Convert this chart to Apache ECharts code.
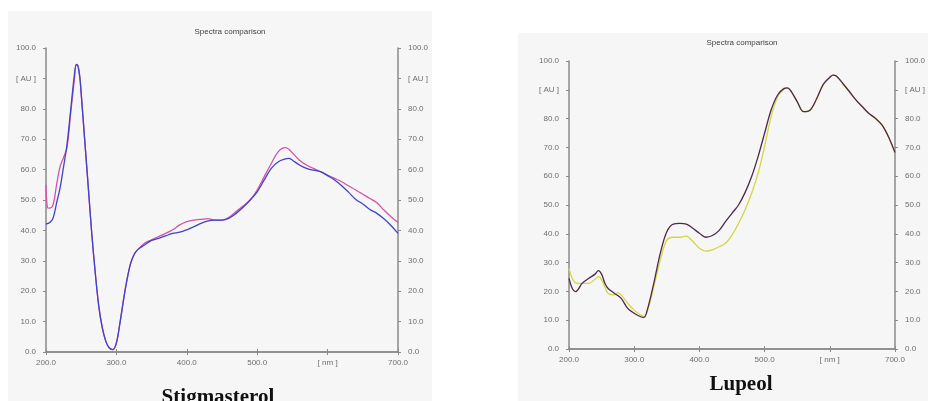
<!DOCTYPE html>
<html><head><meta charset="utf-8">
<script src="https://cdn.jsdelivr.net/npm/echarts@6/dist/echarts.min.js"></script>
<style>html,body{margin:0;padding:0;background:#fff}#c{width:928px;height:401px}</style>
</head><body><div id="c"></div>
<script>
// ---- Stigmasterol (left) ----
const stigBlueNm = [200,205,210,215,220,225,230,235,240,243,245,248,250,255,260,265,270,275,280,285,290,295,300,305,310,315,320,325,330,340,350,360,370,380,390,400,410,420,430,440,450,460,470,480,490,500,510,520,530,540,545,550,560,570,580,590,600,610,620,630,640,650,660,670,680,690,700];
const stigBlue   = [42.1,42.5,44,49,54,61,68.6,79.5,90.5,94.6,94.3,90.5,85,69.7,54.4,39,26,15,7.9,3.5,1.3,0.8,3,9.5,17,23.7,29,32,33.6,35.2,36.7,37.4,38.2,39,39.4,40.2,41.2,42.3,43.1,43.4,43.4,44,45.6,47.6,50,52.7,56.6,60.4,62.6,63.5,63.7,63.1,61.5,60.4,59.8,59.3,58,56.6,54.7,52.5,50.2,48.7,46.9,45.6,43.8,41.6,39];
const stigPinkNm = [200,202,205,210,215,220,225,230,235,240,243,245,248,250,255,260,265,270,275,280,285,290,295,300,305,310,315,320,325,330,340,350,360,370,380,390,400,410,420,430,440,450,460,470,480,490,500,510,520,530,540,545,550,560,570,580,590,600,610,620,630,640,650,660,670,680,690,700];
const stigPink   = [55,47.5,47.3,48.4,55,61,64,67.5,78.4,89,94.3,94.3,90.5,85,69.7,54.4,39,26,15,7.9,3.5,1.3,0.8,3,9.5,17,23.7,29,32,33.6,35.8,36.9,38,39,40.2,41.8,42.9,43.4,43.6,43.9,43.4,43.4,44.3,46.2,48,50,53.3,57.7,62,65.9,67.2,66.7,65.5,63.1,61.5,60.4,59.3,58.2,57.1,56,54.6,53.3,51.9,50.5,49.1,46.7,44.5,42.6];
// ---- Lupeol (right) ----
const lupPurpleNm = [200,205,210,215,220,230,240,245,250,255,260,270,280,290,300,310,315,320,330,340,350,360,370,380,390,400,410,420,430,440,450,460,470,480,490,500,510,520,530,535,540,550,560,570,580,590,600,605,610,620,630,640,650,660,670,680,690,700];
const lupPurple   = [24.5,21,19.9,21,22.8,24.5,26,27.2,26,22.8,21,19.3,17.6,14.1,12.4,11.2,11,13.5,22.8,33.2,40.7,43.4,43.6,43.4,41.9,40.2,38.8,39.4,41.1,44.2,47.1,50,54.3,59.8,66.8,74.9,83,88.2,90.5,90.7,89.7,85.9,82.4,83,87,91.9,94.3,95.1,94.8,92.2,89.4,86.5,84.1,81.8,80.1,77.8,73.7,68.2];
const lupYellowNm = [200,205,210,220,230,240,245,250,255,260,270,275,280,290,300,310,315,320,330,340,350,360,370,380,390,400,410,420,430,440,450,460,470,480,490,500,510,520,530,535,540,550,560,570,580,590,600,605,610,620,630,640,650,660,670,680,690,700];
const lupYellow   = [28,24.5,23,22.8,22.8,24.2,25.1,24,21.6,19.3,18.8,19.6,18.8,15.9,13.5,11.8,11.2,13,21.6,30.9,37.8,38.8,38.8,39.2,37.3,35,34,34.4,35.5,36.7,39.6,43.6,48.3,54,61,70.3,80.7,87.6,90.2,90.7,89.7,85.9,82.4,83,87,91.9,94.3,95.1,94.8,92.2,89.4,86.5,84.1,81.8,80.1,77.8,73.7,68.2];

const xTickLabels = {200:'200.0',300:'300.0',400:'400.0',500:'500.0',600:'[ nm ]',700:'700.0'};
const yTickLabels = {0:'0.0',10:'10.0',20:'20.0',30:'30.0',40:'40.0',50:'50.0',60:'60.0',70:'70.0',80:'80.0',90:'[ AU ]',100:'100.0'};

const pair = (xs, ys) => xs.map((x, i) => [x, ys[i]]);
const axisColor = '#8a8a8a';
const lblStyle = {color:'#6e6e6e', fontSize:8, fontFamily:'Liberation Sans, Arial, sans-serif'};

function xAxes(gi){
  return [
    {type:'value', gridIndex:gi, position:'bottom', min:200, max:700, interval:100,
     axisLine:{lineStyle:{color:axisColor,width:1.5}}, axisTick:{length:3,lineStyle:{color:axisColor}},
     splitLine:{show:false}, axisLabel:Object.assign({margin:7, formatter:v=>xTickLabels[v]||''}, lblStyle)},
    {type:'value', gridIndex:gi, position:'top', min:200, max:700, interval:100,
     axisLine:{lineStyle:{color:axisColor,width:1.5}}, axisTick:{length:3,lineStyle:{color:axisColor}},
     splitLine:{show:false}, axisLabel:{show:false}}
  ];
}
function yAxes(gi, showRight){
  return [
    {type:'value', gridIndex:gi, position:'left', min:0, max:100, interval:10,
     axisLine:{show:true,lineStyle:{color:axisColor,width:1.5}}, axisTick:{show:true,length:3,lineStyle:{color:axisColor}},
     splitLine:{show:false}, axisLabel:Object.assign({margin:10, formatter:v=>yTickLabels[v]||''}, lblStyle)},
    {type:'value', gridIndex:gi, position:'right', min:0, max:100, interval:10,
     axisLine:{show:true,lineStyle:{color:axisColor,width:1.5}}, axisTick:{show:true,length:3,lineStyle:{color:axisColor}},
     splitLine:{show:false}, axisLabel:Object.assign({margin:10, formatter:v=>yTickLabels[v]||''}, lblStyle)}
  ];
}
function line(gi, data, color){
  return {type:'line', xAxisIndex:gi*2, yAxisIndex:gi*2, data:data, showSymbol:false, smooth:0.35,
          lineStyle:{color:color,width:1.3}, itemStyle:{color:color}, animation:false};
}

const chart = echarts.init(document.getElementById('c'), null, {renderer:'canvas'});
chart.setOption({
  backgroundColor:'#ffffff',
  animation:false,
  graphic:[
    {type:'rect', shape:{x:8,y:11,width:424,height:390}, style:{fill:'#f5f6f5'}, z:-10, silent:true},
    {type:'rect', shape:{x:518,y:33,width:410,height:368}, style:{fill:'#f5f6f5'}, z:-10, silent:true}
  ],
  title:[
    {text:'Spectra comparison', left:225, top:23, textAlign:'center', textStyle:{fontSize:8,color:'#444',fontWeight:'normal',fontFamily:'Liberation Sans, Arial, sans-serif'}},
    {text:'Spectra comparison', left:737, top:34, textAlign:'center', textStyle:{fontSize:8,color:'#444',fontWeight:'normal',fontFamily:'Liberation Sans, Arial, sans-serif'}},
    {text:'Stigmasterol', left:213, top:382, textAlign:'center', textStyle:{fontSize:21,color:'#111',fontWeight:'bold',fontFamily:'Liberation Serif, Times New Roman, serif'}},
    {text:'Lupeol', left:736, top:369, textAlign:'center', textStyle:{fontSize:21,color:'#111',fontWeight:'bold',fontFamily:'Liberation Serif, Times New Roman, serif'}}
  ],
  grid:[
    {left:46, top:48, width:352, height:304},
    {left:569, top:61, width:333, height:288}
  ],
  xAxis:[...xAxes(0), ...xAxes(1)],
  yAxis:[...yAxes(0), ...yAxes(1)],
  series:[
    line(0, pair(stigPinkNm, stigPink), '#d552a6'),
    line(0, pair(stigBlueNm, stigBlue), '#4242c8'),
    line(1, pair(lupYellowNm, lupYellow), '#d6d640'),
    line(1, pair(lupPurpleNm, lupPurple), '#4b2a4a')
  ]
});
</script></body></html>
